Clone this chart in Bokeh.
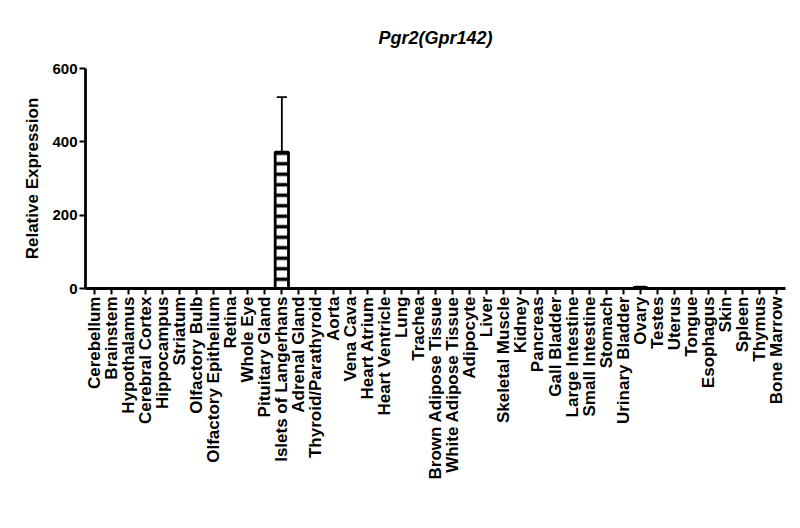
import math
from bokeh.plotting import figure
from bokeh.models import FactorRange, Range1d, FixedTicker, Whisker, TeeHead, ColumnDataSource
from bokeh.embed import file_html
from bokeh.resources import INLINE

categories = ["Cerebellum", "Brainstem", "Hypothalamus", "Cerebral Cortex", "Hippocampus",
              "Striatum", "Olfactory Bulb", "Olfactory Epithelium", "Retina", "Whole Eye",
              "Pituitary Gland", "Islets of Langerhans", "Adrenal Gland", "Thyroid/Parathyroid",
              "Aorta", "Vena Cava", "Heart Atrium", "Heart Ventricle", "Lung", "Trachea",
              "Brown Adipose Tissue", "White Adipose Tissue", "Adipocyte", "Liver",
              "Skeletal Muscle", "Kidney", "Pancreas", "Gall Bladder", "Large Intestine",
              "Small Intestine", "Stomach", "Urinary Bladder", "Ovary", "Testes", "Uterus",
              "Tongue", "Esophagus", "Skin", "Spleen", "Thymus", "Bone Marrow"]
values = [0, 0, 0, 0, 0, 0, 0, 0, 0, 0,
          0, 372, 0, 0, 0, 0, 0, 0, 0, 0,
          0, 0, 0, 0, 0, 0, 0, 0, 0, 0,
          0, 0, 3, 0, 0, 0, 0, 0, 0, 0, 0]
errors = [0, 0, 0, 0, 0, 0, 0, 0, 0, 0,
          0, 150, 0, 0, 0, 0, 0, 0, 0, 0,
          0, 0, 0, 0, 0, 0, 0, 0, 0, 0,
          0, 0, 2, 0, 0, 0, 0, 0, 0, 0, 0]
y_ticks = [0, 200, 400, 600]
title_text = "Pgr2(Gpr142)"
y_label = "Relative Expression"

FONT = "Liberation Sans"

p = figure(x_range=FactorRange(factors=categories, range_padding=0),
           y_range=Range1d(0, 600),
           width=786, height=512, output_backend="svg", toolbar_location=None,
           title=title_text,
           min_border_left=85, min_border_right=1, min_border_top=68, min_border_bottom=224)

p.title.text_font = FONT
p.title.text_font_size = "18px"
p.title.text_font_style = "bold italic"
p.title.text_color = "black"
p.title.align = "center"
p.title.standoff = 42

p.outline_line_color = None
p.xgrid.grid_line_color = None
p.ygrid.grid_line_color = None
p.background_fill_color = "white"
p.border_fill_color = "white"

src = ColumnDataSource(dict(x=categories, top=values,
                            upper=[v + e for v, e in zip(values, errors)]))

p.vbar(x="x", top="top", bottom=0, width=0.78, source=src,
       fill_color="white", line_color="black", line_width=2.8,
       hatch_pattern="horizontal_line", hatch_color="black", hatch_scale=10.5, hatch_weight=3.5)

w = Whisker(source=src, base="x", lower="top", upper="upper", dimension="height",
            line_color="black", line_width=1.8,
            upper_head=TeeHead(size=10, line_color="black", line_width=1.8),
            lower_head=None)
p.add_layout(w)

for ax in (p.xaxis[0], p.yaxis[0]):
    ax.axis_line_width = 2.8
    ax.axis_line_color = "black"
    ax.major_tick_line_width = 2
    ax.major_tick_line_color = "black"
    ax.major_tick_out = 6
    ax.major_tick_in = 0
    ax.minor_tick_line_color = None
    ax.major_label_text_font = FONT
    ax.major_label_text_font_style = "bold"
    ax.major_label_text_color = "black"
    ax.major_label_standoff = 2

p.yaxis.major_label_text_font_size = "15px"
p.xaxis.major_label_text_font_size = "17px"

p.yaxis.ticker = FixedTicker(ticks=y_ticks)
p.yaxis.axis_label = y_label
p.yaxis.axis_label_text_font = FONT
p.yaxis.axis_label_text_font_style = "bold"
p.yaxis.axis_label_text_font_size = "17px"
p.yaxis.axis_label_text_color = "black"
p.yaxis.axis_label_standoff = 7

p.xaxis.major_label_orientation = math.pi / 2
p.xaxis.group_text_font_size = "0px"

open("out.html", "w").write(file_html(p, INLINE))
